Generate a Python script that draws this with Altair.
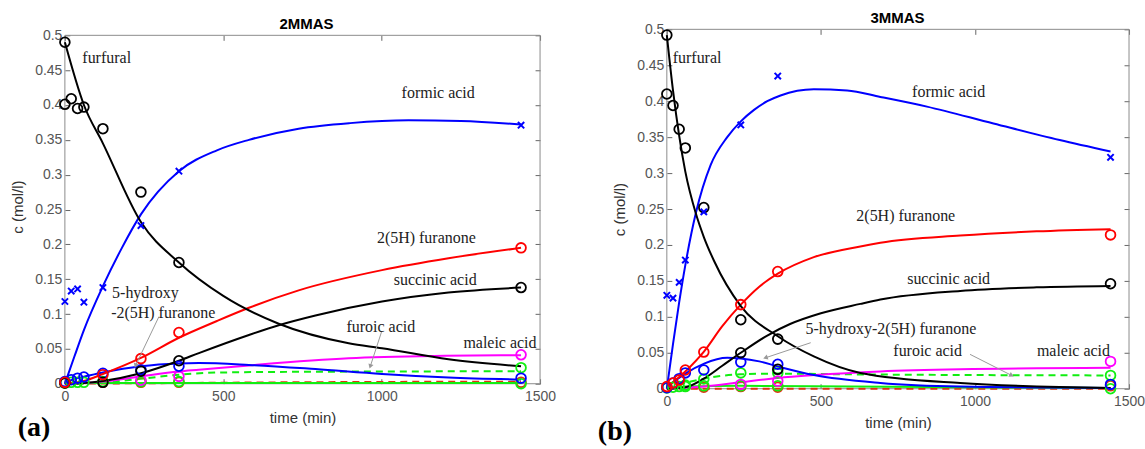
import altair as alt
import pandas as pd

# ---------------- (a) 2MMAS : fitted curves ----------------
A_FIT_FURFURAL_T = [0, 60, 120, 240, 360, 500, 675, 896, 1001, 1211, 1440]
A_FIT_FURFURAL_C = [0.490, 0.400, 0.345, 0.232, 0.174, 0.126, 0.086, 0.058, 0.051, 0.035, 0.025]
A_FIT_FORMIC_T = [0, 30, 60, 120, 180, 240, 360, 480, 581, 738, 900, 1085, 1250, 1440]
A_FIT_FORMIC_C = [0.0, 0.039, 0.077, 0.140, 0.195, 0.243, 0.305, 0.335, 0.350, 0.366, 0.374, 0.378, 0.377, 0.372]
A_FIT_FURANONE_T = [0, 60, 120, 240, 360, 480, 581, 738, 1001, 1211, 1440]
A_FIT_FURANONE_C = [0.0, 0.004, 0.014, 0.037, 0.066, 0.090, 0.109, 0.134, 0.163, 0.180, 0.195]
A_FIT_SUCCINIC_T = [0, 60, 120, 240, 360, 423, 581, 675, 791, 1001, 1211, 1440]
A_FIT_SUCCINIC_C = [0.0, 0.001, 0.004, 0.015, 0.033, 0.044, 0.070, 0.084, 0.098, 0.118, 0.131, 0.138]
A_FIT_HYDROXY_T = [0, 20, 40, 60, 120, 240, 360, 423, 581, 791, 1001, 1211, 1440]
A_FIT_HYDROXY_C = [0.002, 0.005, 0.008, 0.010, 0.016, 0.025, 0.029, 0.0296, 0.027, 0.021, 0.014, 0.009, 0.006]
A_FIT_MALEIC_T = [0, 60, 120, 240, 360, 423, 600, 896, 1200, 1440]
A_FIT_MALEIC_C = [0.0, 0.001, 0.003, 0.0105, 0.0175, 0.020, 0.027, 0.0365, 0.040, 0.041]
A_FIT_FUROIC_T = [0, 120, 240, 360, 480, 700, 1000, 1440]
A_FIT_FUROIC_C = [0.0, 0.002, 0.007, 0.013, 0.016, 0.017, 0.0175, 0.018]
A_FIT_G_T = [0, 360, 1440]
A_FIT_G_C = [0.001, 0.001, 0.001]
A_FIT_R_T = [0, 360, 700, 1440]
A_FIT_R_C = [0.0, 0.001, 0.002, 0.003]

# ---------------- (a) 2MMAS : measured points ----------------
A_PT_FURFURAL_T = [0, 0, 20, 40, 60, 120, 240, 360]
A_PT_FURFURAL_C = [0.490, 0.401, 0.409, 0.395, 0.397, 0.366, 0.275, 0.174]
A_PT_FORMIC_T = [0, 20, 40, 60, 120, 240, 360, 1440]
A_PT_FORMIC_C = [0.118, 0.133, 0.136, 0.117, 0.138, 0.227, 0.305, 0.371]
A_PT_FURANONE_T = [0, 120, 240, 360, 1440]
A_PT_FURANONE_C = [0.002, 0.013, 0.036, 0.0735, 0.195]
A_PT_SUCCINIC_T = [0, 120, 240, 360, 1440]
A_PT_SUCCINIC_C = [0.001, 0.002, 0.018, 0.033, 0.138]
A_PT_HYDROXY_T = [0, 20, 40, 60, 120, 240, 360, 1440]
A_PT_HYDROXY_C = [0.003, 0.0057, 0.008, 0.0096, 0.015, 0.020, 0.025, 0.008]
A_PT_MALEIC_T = [240, 360, 1440]
A_PT_MALEIC_C = [0.005, 0.0105, 0.0415]
A_PT_FUROIC_T = [1440]
A_PT_FUROIC_C = [0.023]
A_PT_G_T = [0, 20, 40, 60, 120, 240, 360, 1440]
A_PT_G_C = [0.001, 0.002, 0.002, 0.002, 0.003, 0.003, 0.003, 0.0]
A_PT_R_T = [0, 120, 240, 360, 1440]
A_PT_R_C = [0.001, 0.002, 0.002, 0.002, 0.002]

A_LABEL_TEXT = ["furfural", "formic acid", "2(5H) furanone", "succinic acid",
                "5-hydroxy", "-2(5H) furanone", "furoic acid", "maleic acid"]
A_LABEL_T = [55, 1063, 985, 1038, 149, 146, 889, 1258]
A_LABEL_C = [0.467, 0.417, 0.209, 0.149, 0.130, 0.102, 0.0817, 0.0587]
A_ARROW_T1 = [297, 1000]
A_ARROW_C1 = [0.0964, 0.075]
A_ARROW_T2 = [223, 964]
A_ARROW_C2 = [0.026, 0.0248]

# ---------------- (b) 3MMAS : fitted curves ----------------
B_FIT_FURFURAL_T = [0, 20, 40, 60, 94, 121, 153, 240, 360, 477, 628, 952, 1440]
B_FIT_FURFURAL_C = [0.492, 0.415, 0.352, 0.302, 0.244, 0.210, 0.178, 0.115, 0.073, 0.045, 0.022, 0.008, 0.001]
B_FIT_FORMIC_T = [0, 20, 40, 60, 94, 142, 196, 240, 283, 326, 369, 477, 585, 693, 844, 1060, 1275, 1440]
B_FIT_FORMIC_C = [0.0, 0.062, 0.120, 0.172, 0.244, 0.311, 0.350, 0.372, 0.388, 0.400, 0.408, 0.4165,
                  0.415, 0.406, 0.3925, 0.369, 0.346, 0.330]
B_FIT_FURANONE_T = [0, 60, 121, 180, 240, 300, 360, 477, 628, 693, 952, 1200, 1440]
B_FIT_FURANONE_C = [0.002, 0.024, 0.052, 0.087, 0.117, 0.142, 0.160, 0.183, 0.198, 0.203, 0.213, 0.219, 0.222]
B_FIT_SUCCINIC_T = [0, 60, 120, 180, 240, 326, 400, 500, 628, 693, 952, 1200, 1440]
B_FIT_SUCCINIC_C = [0.0, 0.002, 0.014, 0.032, 0.050, 0.074, 0.090, 0.105, 0.118, 0.124, 0.136, 0.141, 0.143]
B_FIT_HYDROXY_T = [0, 20, 40, 60, 121, 196, 240, 300, 360, 477, 693, 952, 1440]
B_FIT_HYDROXY_C = [0.002, 0.009, 0.015, 0.021, 0.035, 0.043, 0.042, 0.038, 0.031, 0.019, 0.008, 0.003, 0.001]
B_FIT_MALEIC_T = [0, 60, 120, 240, 360, 480, 693, 952, 1440]
B_FIT_MALEIC_C = [0.0, 0.001, 0.003, 0.009, 0.015, 0.019, 0.024, 0.027, 0.029]
B_FIT_FUROIC_T = [0, 60, 120, 240, 360, 600, 1000, 1440]
B_FIT_FUROIC_C = [0.0, 0.008, 0.014, 0.020, 0.021, 0.020, 0.019, 0.0185]
B_FIT_G_T = [0, 60, 240, 600, 1440]
B_FIT_G_C = [0.0, 0.003, 0.004, 0.003, 0.001]
B_FIT_R_T = [0, 1440]
B_FIT_R_C = [0.0, 0.0]

# ---------------- (b) 3MMAS : measured points ----------------
B_PT_FURFURAL_T = [0, 0, 20, 40, 60, 120, 240, 360]
B_PT_FURFURAL_C = [0.492, 0.410, 0.394, 0.361, 0.335, 0.252, 0.096, 0.069]
B_PT_FORMIC_T = [0, 20, 40, 60, 120, 240, 360, 1440]
B_PT_FORMIC_C = [0.130, 0.126, 0.148, 0.179, 0.246, 0.367, 0.435, 0.322]
B_PT_FURANONE_T = [0, 20, 40, 60, 120, 240, 360, 1440]
B_PT_FURANONE_C = [0.003, 0.008, 0.012, 0.026, 0.051, 0.117, 0.163, 0.214]
B_PT_SUCCINIC_T = [240, 360, 1440]
B_PT_SUCCINIC_C = [0.050, 0.027, 0.146]
B_PT_HYDROXY_T = [0, 20, 40, 60, 120, 240, 360, 1440]
B_PT_HYDROXY_C = [0.0014, 0.008, 0.014, 0.022, 0.026, 0.037, 0.034, 0.006]
B_PT_MALEIC_T = [240, 360, 1440]
B_PT_MALEIC_C = [0.006, 0.0106, 0.038]
B_PT_FUROIC_T = [60, 120, 240, 360, 1440]
B_PT_FUROIC_C = [0.005, 0.0135, 0.022, 0.022, 0.0185]
B_PT_G_T = [0, 20, 40, 60, 120, 240, 360, 1440]
B_PT_G_C = [0.001, 0.002, 0.003, 0.003, 0.004, 0.004, 0.004, 0.0]
B_PT_R_T = [120, 240, 360, 1440]
B_PT_R_C = [0.002, 0.003, 0.002, 0.004]

B_LABEL_TEXT = ["furfural", "formic acid", "2(5H) furanone", "succinic acid",
                "5-hydroxy-2(5H) furanone", "furoic acid", "maleic acid"]
B_LABEL_T = [19, 796, 615, 780, 450, 735, 1201]
B_LABEL_C = [0.46, 0.413, 0.24, 0.152, 0.0824, 0.0518, 0.0518]
B_ARROW_T1 = [467, 984]
B_ARROW_C1 = [0.064, 0.0478]
B_ARROW_T2 = [320, 1119]
B_ARROW_C2 = [0.043, 0.0185]

X_TICKS = [0, 500, 1000, 1500]
Y_TICKS = [0, 0.05, 0.1, 0.15, 0.2, 0.25, 0.3, 0.35, 0.4, 0.45, 0.5]
TITLES = ["2MMAS", "3MMAS"]
PANEL_TAGS = ["(a)", "(b)"]

# ---------------- styling ----------------
SERIES = ["product R", "product G", "furoic acid", "maleic acid", "5-hydroxy-2(5H) furanone",
          "succinic acid", "2(5H) furanone", "formic acid", "furfural"]
COLORS = {"furfural": "#000000", "formic acid": "#0000ff", "2(5H) furanone": "#ff0000",
          "succinic acid": "#000000", "5-hydroxy-2(5H) furanone": "#0000ff",
          "maleic acid": "#ff00ff", "furoic acid": "#11ee11", "product G": "#11ee11",
          "product R": "#dd3311"}
DASHED = {"furoic acid", "product R"}
SANS = "Liberation Sans"
SERIF = "Liberation Serif"
FRAME = "#8c8c8c"


def long_df(d):
    rows = []
    for s in SERIES:
        if s in d:
            ts, cs = d[s]
            for t, c in zip(ts, cs):
                rows.append({"series": s, "t": t, "c": c})
    return pd.DataFrame(rows)


XS = alt.Scale(domain=[X_TICKS[0], X_TICKS[-1]], nice=False)


def panel(fits, pts, xmarks, labels, arrows, title, plabel, w, h, extra_top,
          title_xy, plabel_xy):
    # extra_top: pixels of empty space above the frame inside the view
    ymax = Y_TICKS[-1] * h / (h - extra_top)
    YS = alt.Scale(domain=[0, ymax], nice=False)
    fit_df = long_df(fits)
    pt_df = long_df(pts)
    x_df = pd.DataFrame({"t": xmarks[0], "c": xmarks[1]})
    lab_df = pd.DataFrame({"label": labels[0], "t": labels[1], "c": labels[2]})
    arr_df = pd.DataFrame({"t1": arrows[0], "c1": arrows[1], "t2": arrows[2], "c2": arrows[3],
                           "ang": arrows[4]})
    frame_df = pd.DataFrame({"t1": [X_TICKS[0]], "t2": [X_TICKS[-1]],
                             "c1": [Y_TICKS[0]], "c2": [Y_TICKS[-1]]})

    ax_bl = alt.Chart(fit_df).mark_point(opacity=0, size=1).encode(
        x=alt.X("t:Q", scale=XS, axis=alt.Axis(
            orient="bottom", values=X_TICKS, format="d", offset=-5, domain=False,
            tickSize=5, tickColor="#666", grid=False, labelFont=SANS, labelFontSize=14,
            labelColor="#555", labelPadding=6, labelFlush=False, title="time (min)",
            titleFont=SANS, titleFontSize=15, titleFontWeight="normal", titleColor="#333",
            titlePadding=7)),
        y=alt.Y("c:Q", scale=YS, axis=alt.Axis(
            orient="left", values=Y_TICKS, format="~g", offset=-5, domain=False,
            tickSize=5, tickColor="#666", grid=False, labelFont=SANS, labelFontSize=14,
            labelColor="#555", labelPadding=3, labelFlush=False, title="c (mol/l)",
            titleFont=SANS, titleFontSize=15, titleFontWeight="normal", titleColor="#333",
            titlePadding=9)),
    )
    ax_tr = alt.Chart(fit_df).mark_point(opacity=0, size=1).encode(
        x=alt.X("t:Q", scale=XS, title=None, axis=alt.Axis(
            orient="top", values=X_TICKS, offset=-(5 + extra_top), domain=False,
            labels=False, tickSize=5, tickColor="#666", grid=False)),
        y=alt.Y("c:Q", scale=YS, title=None, axis=alt.Axis(
            orient="right", values=Y_TICKS, offset=-5, domain=False, labels=False,
            tickSize=5, tickColor="#666", grid=False)),
    )
    frame = alt.Chart(frame_df).mark_rect(fillOpacity=0, stroke=FRAME, strokeWidth=1).encode(
        x=alt.X("t1:Q", scale=XS, axis=None), x2="t2:Q",
        y=alt.Y("c1:Q", scale=YS, axis=None), y2="c2:Q")
    layers = [ax_bl, ax_tr, frame]
    for s in SERIES:
        if s not in fits:
            continue
        sub = fit_df[fit_df.series == s]
        kw = dict(color=COLORS[s], strokeWidth=2, interpolate="monotone")
        if s in DASHED:
            kw["strokeDash"] = [7, 5]
        layers.append(alt.Chart(sub).mark_line(**kw).encode(
            x=alt.X("t:Q", scale=XS, axis=None), y=alt.Y("c:Q", scale=YS, axis=None)))
    layers.append(alt.Chart(pt_df).mark_point(shape="circle", filled=False, size=95,
                                              strokeWidth=1.8, opacity=1).encode(
        x=alt.X("t:Q", scale=XS, axis=None), y=alt.Y("c:Q", scale=YS, axis=None),
        color=alt.Color("series:N", scale=alt.Scale(domain=SERIES,
                                                    range=[COLORS[s] for s in SERIES]),
                        legend=None)))
    layers.append(alt.Chart(x_df).mark_point(shape="M-1,-1L1,1M-1,1L1,-1", filled=False,
                                             size=40, strokeWidth=2, color="#0000ff",
                                             opacity=1).encode(
        x=alt.X("t:Q", scale=XS, axis=None), y=alt.Y("c:Q", scale=YS, axis=None)))
    layers.append(alt.Chart(arr_df).mark_rule(color="#999", strokeWidth=1).encode(
        x=alt.X("t1:Q", scale=XS, axis=None), y=alt.Y("c1:Q", scale=YS, axis=None),
        x2="t2:Q", y2="c2:Q"))
    layers.append(alt.Chart(arr_df).mark_point(shape="triangle-up", filled=True, size=28,
                                               color="#999", opacity=1).encode(
        x=alt.X("t2:Q", scale=XS, axis=None), y=alt.Y("c2:Q", scale=YS, axis=None),
        angle=alt.Angle("ang:Q", scale=None)))
    layers.append(alt.Chart(lab_df).mark_text(font=SERIF, fontSize=16, align="left",
                                              baseline="middle", color="#222").encode(
        x=alt.X("t:Q", scale=XS, axis=None), y=alt.Y("c:Q", scale=YS, axis=None),
        text="label:N"))
    layers.append(alt.Chart(pd.DataFrame({"s": [title]})).mark_text(
        font=SANS, fontSize=15, fontWeight="bold", color="#000", align="center",
        baseline="middle").encode(x=alt.value(title_xy[0]), y=alt.value(title_xy[1]),
                                  text="s:N"))
    layers.append(alt.Chart(pd.DataFrame({"s": [plabel]})).mark_text(
        font=SERIF, fontSize=28, fontWeight="bold", color="#000", align="center",
        baseline="middle").encode(x=alt.value(plabel_xy[0]), y=alt.value(plabel_xy[1]),
                                  text="s:N"))
    return alt.layer(*layers).resolve_axis(x="independent", y="independent").properties(
        width=w, height=h)


fits_a = {"furfural": (A_FIT_FURFURAL_T, A_FIT_FURFURAL_C),
          "formic acid": (A_FIT_FORMIC_T, A_FIT_FORMIC_C),
          "2(5H) furanone": (A_FIT_FURANONE_T, A_FIT_FURANONE_C),
          "succinic acid": (A_FIT_SUCCINIC_T, A_FIT_SUCCINIC_C),
          "5-hydroxy-2(5H) furanone": (A_FIT_HYDROXY_T, A_FIT_HYDROXY_C),
          "maleic acid": (A_FIT_MALEIC_T, A_FIT_MALEIC_C),
          "furoic acid": (A_FIT_FUROIC_T, A_FIT_FUROIC_C),
          "product G": (A_FIT_G_T, A_FIT_G_C),
          "product R": (A_FIT_R_T, A_FIT_R_C)}
pts_a = {"furfural": (A_PT_FURFURAL_T, A_PT_FURFURAL_C),
         "2(5H) furanone": (A_PT_FURANONE_T, A_PT_FURANONE_C),
         "succinic acid": (A_PT_SUCCINIC_T, A_PT_SUCCINIC_C),
         "5-hydroxy-2(5H) furanone": (A_PT_HYDROXY_T, A_PT_HYDROXY_C),
         "maleic acid": (A_PT_MALEIC_T, A_PT_MALEIC_C),
         "furoic acid": (A_PT_FUROIC_T, A_PT_FUROIC_C),
         "product G": (A_PT_G_T, A_PT_G_C),
         "product R": (A_PT_R_T, A_PT_R_C)}
fits_b = {"furfural": (B_FIT_FURFURAL_T, B_FIT_FURFURAL_C),
          "formic acid": (B_FIT_FORMIC_T, B_FIT_FORMIC_C),
          "2(5H) furanone": (B_FIT_FURANONE_T, B_FIT_FURANONE_C),
          "succinic acid": (B_FIT_SUCCINIC_T, B_FIT_SUCCINIC_C),
          "5-hydroxy-2(5H) furanone": (B_FIT_HYDROXY_T, B_FIT_HYDROXY_C),
          "maleic acid": (B_FIT_MALEIC_T, B_FIT_MALEIC_C),
          "furoic acid": (B_FIT_FUROIC_T, B_FIT_FUROIC_C),
          "product G": (B_FIT_G_T, B_FIT_G_C),
          "product R": (B_FIT_R_T, B_FIT_R_C)}
pts_b = {"furfural": (B_PT_FURFURAL_T, B_PT_FURFURAL_C),
         "2(5H) furanone": (B_PT_FURANONE_T, B_PT_FURANONE_C),
         "succinic acid": (B_PT_SUCCINIC_T, B_PT_SUCCINIC_C),
         "5-hydroxy-2(5H) furanone": (B_PT_HYDROXY_T, B_PT_HYDROXY_C),
         "maleic acid": (B_PT_MALEIC_T, B_PT_MALEIC_C),
         "furoic acid": (B_PT_FUROIC_T, B_PT_FUROIC_C),
         "product G": (B_PT_G_T, B_PT_G_C),
         "product R": (B_PT_R_T, B_PT_R_C)}

ARROW_ANGLES_A = [201, 198]
ARROW_ANGLES_B = [252, 117]

pa = panel(fits_a, pts_a, (A_PT_FORMIC_T, A_PT_FORMIC_C),
           (A_LABEL_TEXT, A_LABEL_T, A_LABEL_C),
           (A_ARROW_T1, A_ARROW_C1, A_ARROW_T2, A_ARROW_C2, ARROW_ANGLES_A),
           TITLES[0], PANEL_TAGS[0], 476, 355, 6, (242, -5), (-31, 399))
pb = panel(fits_b, pts_b, (B_PT_FORMIC_T, B_PT_FORMIC_C),
           (B_LABEL_TEXT, B_LABEL_T, B_LABEL_C),
           (B_ARROW_T1, B_ARROW_C1, B_ARROW_T2, B_ARROW_C2, ARROW_ANGLES_B),
           TITLES[1], PANEL_TAGS[1], 463, 360, 0, (231, -11), (-52, 403))

chart = alt.hconcat(pa, pb, spacing=41).properties(
    padding={"left": 10, "top": 11, "right": 0, "bottom": 0},
    background="white",
).configure_view(strokeWidth=0)

chart.save("out.html", embed_options={"renderer": "svg", "actions": False})
